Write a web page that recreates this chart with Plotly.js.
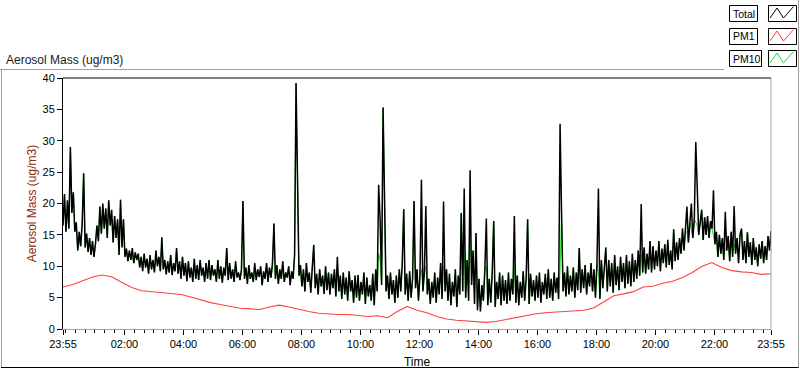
<!DOCTYPE html>
<html><head><meta charset="utf-8">
<script src="https://cdn.plot.ly/plotly-3.0.1.min.js"></script>
<style>html,body{margin:0;padding:0;background:#fff}#chart{width:800px;height:369px}</style>
</head><body><div id="chart"></div>
<script>
// ---- data (x in minutes after 23:55) ----
const STEP_TOTAL = 3;    // minutes between Total / PM10 samples
const STEP_PM1 = 20;     // minutes between PM1 samples
const tickVals = [0,125,245,365,485,605,725,845,965,1085,1205,1325,1440];
const tickText = ['23:55','02:00','04:00','06:00','08:00','10:00','12:00','14:00','16:00','18:00','20:00','22:00','23:55'];
const yTickVals = [0,5,10,15,20,25,30,35,40];

const total = [
16.5,21.5,15.5,20.5,16.0,29.0,18.5,21.8,15.5,17.0,12.5,15.5,13.2,16.8,24.8,13.0,15.2,12.3,14.5,11.8,
14.0,11.5,13.5,16.5,14.0,19.5,15.2,20.0,16.0,19.2,14.5,20.5,16.5,19.0,13.8,18.0,14.5,17.5,11.8,20.6,
13.0,17.5,11.5,12.8,10.8,12.5,11.0,12.9,10.5,12.2,11.0,12.0,9.8,11.5,9.2,12.0,9.8,11.2,8.8,11.8,
9.5,11.0,9.0,12.5,10.0,11.5,9.2,14.6,9.5,11.0,8.7,10.8,9.0,11.8,8.6,10.5,9.2,12.9,8.8,10.8,
8.0,11.5,8.5,10.5,7.6,10.8,8.2,9.8,7.5,11.2,8.0,10.2,7.8,11.0,8.5,9.8,7.5,10.5,8.0,11.0,
7.8,10.2,8.5,9.5,7.5,11.0,8.0,10.0,7.4,9.8,8.5,12.9,7.8,10.5,8.0,9.5,7.5,10.8,8.2,9.0,
7.8,9.5,20.4,8.0,9.8,7.2,10.2,8.0,9.0,7.5,10.5,7.8,9.5,8.3,10.0,7.0,9.2,8.0,10.5,7.5,
9.8,8.2,10.5,16.8,8.0,10.2,7.2,9.5,8.0,10.8,7.5,9.0,8.2,10.0,7.0,9.2,8.0,11.8,39.2,23.3,
8.5,10.2,6.8,9.5,6.0,10.5,7.5,9.0,5.8,9.8,13.4,6.5,8.8,5.5,9.5,6.8,8.5,5.6,10.0,6.2,
9.0,5.5,8.8,6.5,9.5,5.2,11.5,6.0,8.5,4.8,9.0,5.5,8.2,4.5,9.2,6.0,7.8,4.2,8.5,5.0,
8.6,4.5,7.5,5.5,9.0,4.0,8.2,5.2,7.0,4.5,8.8,3.8,9.5,6.0,23.0,17.4,7.0,35.3,19.0,6.0,
8.5,4.8,9.0,5.5,7.8,4.2,8.5,5.0,9.5,6.0,10.5,19.1,5.5,8.8,4.5,9.2,5.0,8.0,20.4,6.5,
9.5,4.5,8.5,23.8,6.0,9.0,19.6,5.5,8.0,4.0,7.5,5.0,9.0,4.2,8.2,5.5,10.5,4.8,20.3,6.0,
9.5,4.5,8.8,3.8,7.5,5.2,9.5,3.5,8.5,5.5,18.5,6.0,22.4,5.0,11.0,4.5,25.3,7.0,12.5,4.0,
15.3,3.0,8.0,2.8,7.0,4.5,9.5,17.6,3.8,8.0,4.2,9.0,17.2,3.5,7.5,4.8,9.0,3.8,8.5,4.5,
7.8,4.0,9.0,4.5,8.0,5.5,18.0,4.2,8.5,3.8,7.5,5.0,9.2,4.5,8.0,17.5,4.0,8.8,5.2,7.8,
4.5,8.5,5.0,9.0,4.2,7.5,5.5,8.8,4.8,9.5,5.0,8.0,4.5,9.0,5.8,8.2,4.8,32.7,18.5,6.0,
9.0,5.2,10.0,5.5,8.5,6.0,9.8,5.0,9.0,6.2,12.9,5.8,9.5,6.5,10.2,5.5,9.0,6.8,10.5,6.0,
9.5,5.0,10.5,22.4,4.8,11.0,6.5,9.5,13.0,6.0,11.0,6.8,10.5,5.8,11.8,7.0,10.0,6.2,11.5,7.5,
10.5,6.5,11.8,7.2,10.8,6.8,12.0,7.5,11.0,8.0,12.5,8.5,19.9,9.0,13.0,8.8,12.0,9.5,14.0,9.0,
13.2,9.5,12.5,10.0,14.0,9.2,12.8,10.5,13.5,9.8,14.2,10.2,12.5,9.5,15.9,10.8,13.8,11.0,14.5,12.0,
16.0,12.5,15.5,19.5,13.8,17.0,20.0,14.5,17.5,29.8,23.3,15.0,17.0,19.0,14.2,17.8,15.0,18.0,14.5,17.2,
16.0,22.1,13.5,15.5,11.5,15.0,12.0,14.5,11.0,18.7,12.5,14.8,10.8,15.5,11.5,19.6,12.0,14.5,10.5,15.0,
16.0,11.0,14.0,10.5,15.4,11.5,13.8,10.2,14.5,11.0,13.0,10.0,13.5,11.2,14.0,10.5,13.2,11.0,14.8,12.5,
15.6];

const pm10 = [
16.5,21.5,15.5,18.0,16.0,29.0,18.5,21.8,15.5,17.0,12.5,14.0,13.2,16.8,24.8,13.0,15.2,12.3,14.5,11.8,
14.0,11.5,13.5,16.5,14.0,19.5,15.2,17.5,16.0,19.2,14.5,20.5,16.5,17.0,13.8,18.0,14.5,17.5,11.8,20.6,
13.0,17.5,11.5,12.8,10.8,12.5,11.0,11.5,10.5,12.2,11.0,12.0,9.8,11.5,9.2,12.0,9.8,11.2,8.8,11.8,
9.5,11.0,9.0,12.5,10.0,11.5,9.2,14.6,9.5,11.0,8.7,10.8,9.0,11.8,8.6,10.5,9.2,12.9,8.8,10.8,
8.0,11.5,8.5,10.5,7.6,10.8,8.2,9.8,7.5,11.2,8.0,10.2,7.8,11.0,8.5,9.8,7.5,10.5,8.0,11.0,
7.8,10.2,8.5,9.5,7.5,11.0,8.0,10.0,7.4,9.8,8.5,12.9,7.8,10.5,8.0,9.5,7.5,10.8,8.2,9.0,
7.8,9.5,20.4,8.0,9.8,7.2,10.2,8.0,9.0,7.5,9.5,7.8,9.5,8.3,10.0,7.0,9.2,8.0,10.5,7.5,
9.8,8.2,9.5,16.8,8.0,10.2,7.2,9.5,8.0,10.8,7.5,9.0,8.2,10.0,7.0,9.2,8.0,11.8,39.2,23.3,
8.5,9.0,6.8,9.5,6.0,10.5,7.5,9.0,5.8,9.8,13.4,6.5,8.8,5.5,9.5,6.8,8.5,5.6,10.0,6.2,
9.0,5.5,8.8,6.5,9.5,5.2,10.0,6.0,8.5,4.8,9.0,5.5,8.2,4.5,9.2,6.0,7.8,4.2,8.5,5.0,
8.6,4.5,7.5,5.5,9.0,4.0,8.2,5.2,7.0,4.5,8.8,3.8,9.5,6.0,12.0,11.0,7.0,35.3,19.0,6.0,
8.5,4.8,9.0,5.5,7.8,4.2,8.5,5.0,9.5,6.0,10.5,19.1,5.5,8.8,4.5,9.2,5.0,8.0,20.4,6.5,
9.5,4.5,8.5,9.5,6.0,9.0,10.0,5.5,8.0,4.0,7.5,5.0,9.0,4.2,8.2,5.5,10.5,4.8,10.0,6.0,
9.5,4.5,8.8,3.8,7.5,5.2,9.5,3.5,8.5,5.5,18.5,6.0,12.5,5.0,11.0,4.5,17.0,7.0,12.5,4.0,
15.3,3.0,8.0,2.8,7.0,4.5,9.5,10.0,3.8,8.0,4.2,9.0,17.2,3.5,7.5,4.8,9.0,3.8,8.5,4.5,
7.8,4.0,9.0,4.5,8.0,5.5,10.0,4.2,8.5,3.8,7.5,5.0,9.2,4.5,8.0,17.5,4.0,8.8,5.2,7.8,
4.5,8.5,5.0,9.0,4.2,7.5,5.5,8.8,4.8,9.5,5.0,8.0,4.5,9.0,5.8,8.2,4.8,9.5,18.5,6.0,
9.0,5.2,10.0,5.5,8.5,6.0,9.8,5.0,9.0,6.2,12.9,5.8,9.5,6.5,10.2,5.5,9.0,6.8,10.5,6.0,
9.5,5.0,10.5,9.0,4.8,11.0,6.5,9.5,13.0,6.0,11.0,6.8,10.5,5.8,11.8,7.0,10.0,6.2,11.5,7.5,
10.5,6.5,11.8,7.2,10.8,6.8,12.0,7.5,11.0,8.0,12.5,8.5,12.0,9.0,13.0,8.8,12.0,9.5,14.0,9.0,
13.2,9.5,12.5,10.0,14.0,9.2,12.8,10.5,13.5,9.8,14.2,10.2,12.5,9.5,15.9,10.8,13.8,11.0,14.5,12.0,
16.0,12.5,15.5,15.5,13.8,17.0,16.0,14.5,17.5,17.0,16.5,15.0,17.0,19.0,14.2,17.8,15.0,18.0,14.5,17.2,
16.0,15.0,13.5,15.5,11.5,15.0,12.0,14.5,11.0,13.0,12.5,14.8,10.8,15.5,11.5,13.5,12.0,14.5,10.5,15.0,
16.0,11.0,14.0,10.5,15.4,11.5,13.8,10.2,14.5,11.0,13.0,10.0,13.5,11.2,14.0,10.5,13.2,11.0,14.8,12.5,
15.6];

const pm1 = [
6.7,7.1,7.7,8.3,8.6,8.3,7.4,6.6,6.1,5.95,
5.9,5.7,5.5,5.1,4.6,4.2,3.9,3.6,3.3,3.2,
3.1,3.5,3.8,3.5,3.1,2.8,2.5,2.35,2.3,2.3,
2.2,2.0,2.1,1.8,2.8,3.6,3.0,2.6,2.0,1.6,
1.4,1.25,1.15,1.05,1.2,1.5,1.8,2.2,2.4,2.6,
2.7,2.7,2.8,3.0,3.4,4.3,5.3,5.6,5.95,6.7,
6.8,7.3,7.6,8.2,9.0,10.0,10.6,9.8,9.3,9.1,
9.0,8.7,8.8];

const legendNames = ['Total','PM1','PM10'];
const legendColors = ['#000000','#ff4040','#1ee61e'];

// ---- helpers: pixel -> paper coordinates (plot area 63..771 x 78..329) ----
const L = 63, R = 771, T = 78, B = 329;
const fx = p => (p - L) / (R - L);
const fy = p => (B - p) / (B - T);
const xs = (arr, step) => arr.map((_, i) => i * step);

const traces = [
  {x: xs(pm10, STEP_TOTAL), y: pm10, name: 'PM10', type: 'scatter', mode: 'lines',
   line: {color: legendColors[2], width: 1.0}},
  {x: xs(pm1, STEP_PM1), y: pm1, name: 'PM1', type: 'scatter', mode: 'lines',
   line: {color: legendColors[1], width: 1.1}},
  {x: xs(total, STEP_TOTAL), y: total, name: 'Total', type: 'scatter', mode: 'lines',
   line: {color: legendColors[0], width: 1.5}}
];

const shapes = [
  {type:'line', xref:'paper', yref:'paper', x0:0, x1:1, y0:1, y1:1, line:{color:'#000', width:1}},
  {type:'line', xref:'paper', yref:'paper', x0:1, x1:1, y0:0, y1:1, line:{color:'#a0a0a0', width:1}},
  {type:'line', xref:'paper', yref:'paper', x0:fx(0), x1:fx(724), y0:fy(69.5), y1:fy(69.5), line:{color:'#a0a0a0', width:1}},
  {type:'line', xref:'paper', yref:'paper', x0:fx(1.5), x1:fx(1.5), y0:fy(69.5), y1:fy(367.5), line:{color:'#a0a0a0', width:1}},
  {type:'line', xref:'paper', yref:'paper', x0:fx(1), x1:fx(799), y0:fy(367.5), y1:fy(367.5), line:{color:'#000', width:1}},
  {type:'line', xref:'paper', yref:'paper', x0:fx(798.5), x1:fx(798.5), y0:fy(0), y1:fy(367.5), line:{color:'#a0a0a0', width:1}}
];
const annotations = [
  {xref:'paper', yref:'paper', x:fx(4), y:fy(59.5), xanchor:'left', yanchor:'middle', showarrow:false,
   text:'Aerosol Mass (ug/m3)', font:{size:12, color:'#1a1a1a', family:'Liberation Sans, Arial, sans-serif'}}
];
const rowTop = [5, 28, 50];
const boxRight = [757, 757, 761];
legendNames.forEach((nm, k) => {
  const t = rowTop[k];
  shapes.push({type:'rect', xref:'paper', yref:'paper', x0:fx(729.5), x1:fx(boxRight[k]+0.5), y0:fy(t+0.5), y1:fy(t+16.5),
    line:{color:'#000', width:1}, fillcolor:'rgba(0,0,0,0)'});
  shapes.push({type:'rect', xref:'paper', yref:'paper', x0:fx(768.5), x1:fx(796.5), y0:fy(t+0.5), y1:fy(t+16.5),
    line:{color:'#000', width:1}, fillcolor:'rgba(0,0,0,0)'});
  const pts = [[770,t+13],[777,t+3],[783.5,t+13],[793.5,t+1.5]];
  shapes.push({type:'path', xref:'paper', yref:'paper',
    path: pts.map((p,i)=>(i?'L':'M')+fx(p[0])+','+fy(p[1])).join(' '),
    line:{color:legendColors[k], width:1}});
  annotations.push({xref:'paper', yref:'paper', x:fx(730.5), y:fy(t+8.5), xanchor:'left', yanchor:'middle',
    showarrow:false, text:nm, font:{size:10.5, color:'#000', family:'Liberation Sans, Arial, sans-serif'}});
});

const layout = {
  width: 800, height: 369,
  margin: {l: L, r: 800 - R, t: T, b: 369 - B, pad: 0},
  paper_bgcolor: '#fff', plot_bgcolor: '#fff',
  showlegend: false,
  font: {family: 'Liberation Sans, Arial, sans-serif', size: 11, color: '#000'},
  xaxis: {
    range: [0, 1440], tickmode: 'array', tickvals: tickVals, ticktext: tickText,
    ticks: 'outside', ticklen: 5, tickwidth: 1, tickcolor: '#000',
    minor: {dtick: 20, tick0: 5, ticks: 'outside', ticklen: 3, tickwidth: 1, tickcolor: '#000', showgrid: false},
    showline: true, linecolor: '#a0a0a0', linewidth: 1,
    showgrid: false, zeroline: false, tickfont: {size: 11},
    title: {text: 'Time', font: {size: 12, color: '#000'}, standoff: 8}
  },
  yaxis: {
    range: [0, 40], tickmode: 'array', tickvals: yTickVals,
    ticks: 'outside', ticklen: 5, tickwidth: 1, tickcolor: '#000',
    showline: true, linecolor: '#000', linewidth: 1,
    showgrid: false, zeroline: false, tickfont: {size: 11},
    title: {text: 'Aerosol Mass (ug/m3)', font: {size: 12, color: '#8b2c14'}, standoff: 3}
  },
  shapes: shapes,
  annotations: annotations
};

Plotly.newPlot('chart', traces, layout, {displayModeBar: false, staticPlot: true});
</script>
</body></html>
